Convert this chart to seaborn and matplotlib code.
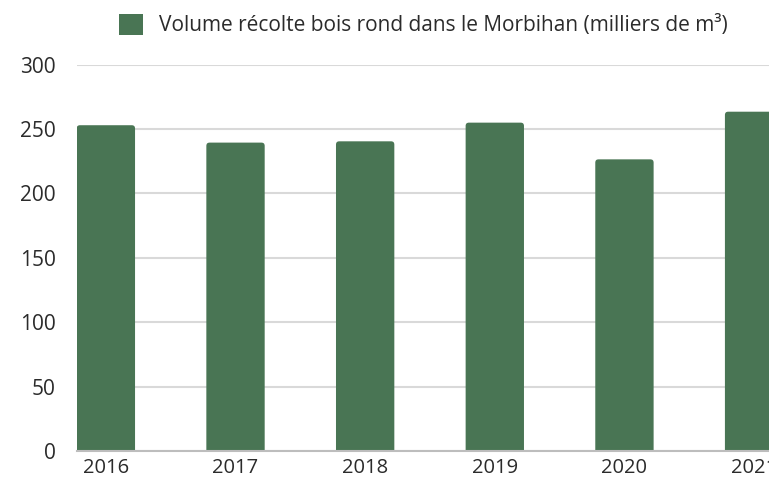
import matplotlib
matplotlib.use("Agg")
import matplotlib.pyplot as plt
import seaborn as sns
import pandas as pd
from matplotlib.patches import Patch, FancyBboxPatch

years = ["2016", "2017", "2018", "2019", "2020", "2021"]
volumes = [253, 239.5, 240.5, 255, 226.5, 263.5]
legend_label = "Volume récolte bois rond dans le Morbihan (milliers de m³)"
y_ticks = [0, 50, 100, 150, 200, 250, 300]

BAR_COLOR = "#497554"
GRID_COLOR = "#d9d9d9"
TEXT_COLOR = "#2b2b2b"

sns.set_theme(style="white")
plt.rcParams["font.family"] = ["Open Sans", "DejaVu Sans"]

df = pd.DataFrame({"year": years, "volume": volumes})

fig = plt.figure(figsize=(7.69, 4.80), dpi=100)
ax = fig.add_axes([76.7 / 769, 1 - 451 / 480, 1 - 76.7 / 769, (451 - 64.7) / 480])

sns.barplot(data=df, x="year", y="volume", color=BAR_COLOR, width=0.45,
            saturation=1, ax=ax, zorder=3)

# rounded top corners
for p in list(ax.patches):
    x, y = p.get_x(), p.get_y()
    w, h = p.get_width(), p.get_height()
    fb = FancyBboxPatch((x, y - 6), w, h + 6,
                        boxstyle="round,pad=0,rounding_size=0.025",
                        mutation_aspect=100, facecolor=BAR_COLOR,
                        edgecolor="none", zorder=3)
    p.remove()
    ax.add_patch(fb)

ax.set_ylim(0, 300)
ax.set_xlim(-0.225, 5.115)
ax.set_yticks(y_ticks)
ax.yaxis.grid(True, color=GRID_COLOR, linewidth=1.5, zorder=0)
ax.xaxis.grid(False)
for s in ["top", "right", "left"]:
    ax.spines[s].set_visible(False)
ax.spines["bottom"].set_color("#bdbdbd")
ax.spines["bottom"].set_linewidth(1.5)
ax.spines["bottom"].set_zorder(4)
ax.set_xlabel("")
ax.set_ylabel("")
ax.tick_params(axis="y", length=0, pad=15, labelsize=15, labelcolor=TEXT_COLOR)
ax.tick_params(axis="x", length=0, pad=5, labelsize=14.5, labelcolor=TEXT_COLOR)

handle = Patch(facecolor=BAR_COLOR, edgecolor="none")
fig.legend(handles=[handle], labels=[legend_label], loc="upper left",
           bbox_to_anchor=(119 / 769, 1 - 14 / 480), frameon=False,
           fontsize=15, handlelength=1.15, handleheight=1.15,
           handletextpad=0.75, borderpad=0, borderaxespad=0,
           labelcolor=TEXT_COLOR)

fig.savefig("out.png", dpi=100)
